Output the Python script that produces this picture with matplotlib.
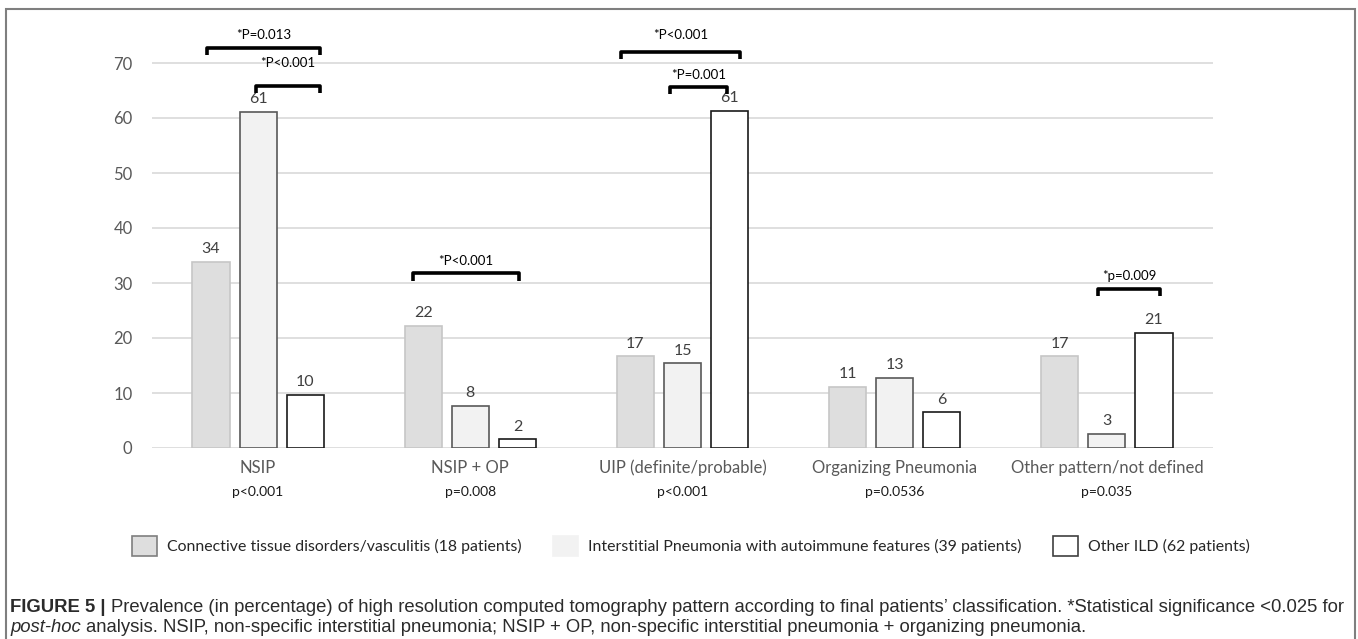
import matplotlib.pyplot as plt
from matplotlib.patches import Patch, Rectangle
import numpy as np

categories = ["NSIP", "NSIP + OP", "UIP (definite/probable)",
              "Organizing Pneumonia", "Other pattern/not defined"]
overall_p = ["p<0.001", "p=0.008", "p<0.001", "p=0.0536", "p=0.035"]

series_names = ["Connective tissue disorders/vasculitis (18 patients)",
                "Interstitial Pneumonia with autoimmune features (39 patients)",
                "Other ILD (62 patients)"]
ctd = [33.9, 22.2, 16.7, 11.1, 16.7]
ipaf = [61.1, 7.7, 15.4, 12.8, 2.6]
other_ild = [9.7, 1.6, 61.3, 6.5, 21.0]
ctd_labels = ["34", "22", "17", "11", "17"]
ipaf_labels = ["61", "8", "15", "13", "3"]
other_labels = ["10", "2", "61", "6", "21"]

posthoc_groups = [0, 0, 1, 2, 2, 4]
posthoc_labels = ["*P=0.013", "*P<0.001", "*P<0.001", "*P<0.001", "*P=0.001", "*p=0.009"]

caption_1 = [("FIGURE 5 |", "bold", "normal"),
             ("Prevalence (in percentage) of high resolution computed tomography pattern "
              "according to final patients\u2019 classification. *Statistical significance "
              "<0.025 for", "normal", "normal")]
caption_2 = [("post-hoc", "normal", "italic"),
             ("analysis. NSIP, non-specific interstitial pneumonia; NSIP + OP, non-specific "
              "interstitial pneumonia + organizing pneumonia.", "normal", "normal")]

W, H = 1358, 639
FONT = "Lato"


def draw_runs(fig, x_px, y_px, runs, size, color):
    r = fig.canvas.get_renderer()
    # width of a space for this font
    a = fig.text(0, 0, "a a", fontsize=size, family="Liberation Sans")
    b = fig.text(0, 0, "aa", fontsize=size, family="Liberation Sans")
    sp = a.get_window_extent(r).width - b.get_window_extent(r).width
    a.remove()
    b.remove()
    x = x_px
    for s, weight, style in runs:
        t = fig.text(x / W, 1 - y_px / H, s, fontsize=size, family="Liberation Sans",
                     weight=weight, style=style, color=color, ha="left", va="center")
        x += t.get_window_extent(r).width + sp
    return x


def main():
    fig = plt.figure(figsize=(W / 100, H / 100), dpi=100)
    ax = fig.add_axes([152 / W, (H - 448) / H, 1061 / W, 440 / H])

    x = np.arange(len(categories))
    step, width = 0.222, 0.175
    styles = [dict(color="#dedede", edgecolor="#c6c6c6"),
              dict(color="#f2f2f2", edgecolor="#595959"),
              dict(color="white", edgecolor="#1a1a1a")]
    for k, (vals, labs) in enumerate([(ctd, ctd_labels), (ipaf, ipaf_labels),
                                      (other_ild, other_labels)]):
        pos = x + (k - 1) * step
        ax.bar(pos, vals, width, linewidth=1.2, zorder=3, **styles[k])
        for px, v, lab in zip(pos, vals, labs):
            ax.annotate(lab, (px, v), xytext=(0, 4), textcoords="offset points",
                        ha="center", va="bottom", fontsize=11.5, color="#404040",
                        family=FONT)

    ax.set_xlim(-0.5, len(categories) - 0.5)
    ax.set_ylim(0, 80)
    ax.set_yticks(range(0, 80, 10))
    ax.yaxis.grid(True, color="#d9d9d9", linewidth=1.2, zorder=0)
    ax.tick_params(axis="y", length=0, pad=14, labelsize=12, labelcolor="#595959")
    for lab in ax.get_yticklabels():
        lab.set_family(FONT)
    ax.set_xticks([])
    for s in ax.spines.values():
        s.set_visible(False)

    for i, (cat, p) in enumerate(zip(categories, overall_p)):
        ax.text(i, -20 / 440 * 80, cat, ha="center", va="center", fontsize=12,
                color="#595959", family=FONT, clip_on=False)
        ax.text(i, -44 / 440 * 80, p, ha="center", va="center", fontsize=10,
                color="#1a1a1a", family=FONT, clip_on=False)

    # bracket geometry: (x0, x1, line y, tick drop, text y) relative to group centre
    geom = [(-0.24, 0.29, 72.7, 1.2, 75.1),
            (-0.01, 0.29, 65.8, 1.2, 70.0),
            (-0.27, 0.23, 31.8, 1.4, 34.0),
            (-0.29, 0.27, 72.0, 1.2, 75.1),
            (-0.06, 0.21, 65.6, 1.2, 67.9),
            (-0.04, 0.25, 28.9, 1.2, 31.3)]
    for g, lab, (x0, x1, yl, dr, yt) in zip(posthoc_groups, posthoc_labels, geom):
        ax.plot([g + x0, g + x0, g + x1, g + x1], [yl - dr, yl, yl, yl - dr],
                color="black", linewidth=2.6, solid_capstyle="butt", zorder=5,
                clip_on=False)
        ax.text(g + (x0 + x1) / 2, yt, lab, ha="center", va="center", fontsize=9.5,
                color="black", family=FONT, clip_on=False, zorder=5)

    handles = [Patch(facecolor="#dedede", edgecolor="#7f7f7f", linewidth=1.2),
               Patch(facecolor="#f2f2f2", edgecolor="#f2f2f2", linewidth=1.2),
               Patch(facecolor="white", edgecolor="#404040", linewidth=1.2)]
    fig.legend(handles, series_names, loc="center", bbox_to_anchor=(0.509, 1 - 546 / H),
               ncol=3, frameon=False, handlelength=1.55, handleheight=1.55,
               handletextpad=0.65, columnspacing=2.0,
               prop={"family": FONT, "size": 11.4}, labelcolor="#262626")

    draw_runs(fig, 10, 607, caption_1, 13.3, "#2b2b2b")
    draw_runs(fig, 10, 627, caption_2, 13.3, "#2b2b2b")

    fig.add_artist(Rectangle((6 / W, -0.02), 1349 / W, (H - 9) / H + 0.02,
                             transform=fig.transFigure, fill=False,
                             edgecolor="#7f7f7f", linewidth=1.5))

    fig.savefig("out.png", dpi=100)


if __name__ == "__main__":
    main()
